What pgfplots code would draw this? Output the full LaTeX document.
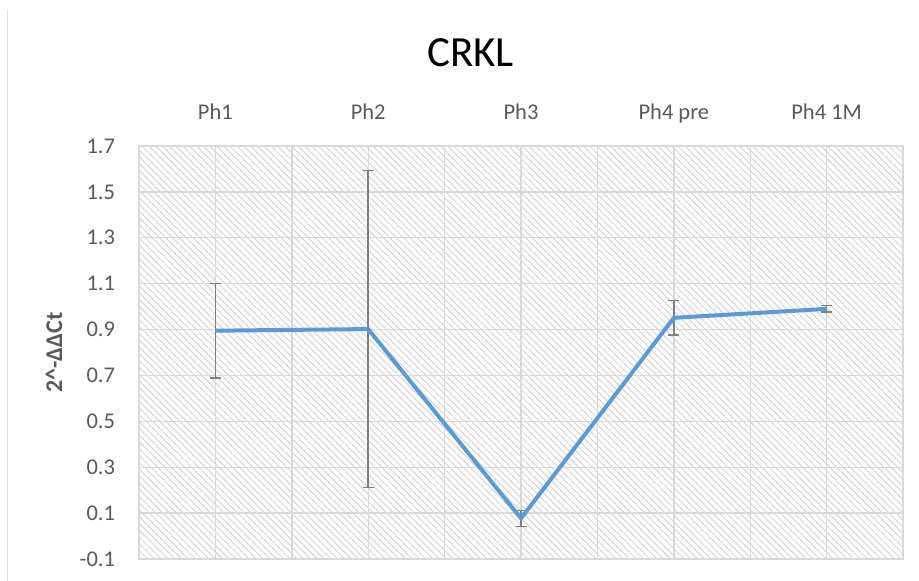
\documentclass[border=0pt]{standalone}
\usepackage{fontspec}
\setmainfont{Carlito}
\usepackage{pgfplots}
\usepackage{pgfplotstable}
\pgfplotsset{compat=1.18}
\usetikzlibrary{patterns.meta}
\definecolor{lineblue}{HTML}{5B9BD5}
\definecolor{ticktxt}{HTML}{595959}
\definecolor{gridc}{HTML}{D9D9D9}
\definecolor{errc}{HTML}{7F7F7F}
\pgfplotstableread{
x y e
1 0.895 0.206
2 0.902 0.691
3 0.077 0.035
4 0.951 0.075
5 0.990 0.014
}\data
\begin{document}
\begin{tikzpicture}
\begin{axis}[
  scale only axis, width=382pt, height=206.5pt,
  xmin=0.5, xmax=5.5, ymin=-0.1, ymax=1.7,
  clip=false,
  xtick={1,2,3,4,5},
  xticklabels={Ph1,Ph2,Ph3,Ph4 pre,Ph4 1M},
  minor xtick={0.5,1.5,2.5,3.5,4.5,5.5},
  ytick={-0.1,0.1,0.3,0.5,0.7,0.9,1.1,1.3,1.5,1.7},
  yticklabels={-0.1,0.1,0.3,0.5,0.7,0.9,1.1,1.3,1.5,1.7},
  xticklabel pos=right,
  major tick length=0pt, minor tick length=0pt,
  xmajorgrids, xminorgrids, ymajorgrids,
  grid style={gridc, line width=0.7pt},
  minor grid style={gridc, line width=0.7pt},
  axis line style={gridc, line width=0.7pt},
  axis background/.style={pattern={Lines[angle=-45, distance=2.4pt, line width=0.5pt]}, pattern color=black!17},
  tick label style={color=ticktxt, font=\fontsize{11.25}{13}\selectfont},
  yticklabel style={anchor=east, inner sep=0pt, xshift=-11.8pt},
  xticklabel style={anchor=base, inner sep=0pt, yshift=13pt},
]
\addplot[draw=none, mark=none, forget plot,
  error bars/.cd, y dir=both, y explicit,
  error bar style={errc, line width=0.8pt},
  error mark options={errc, rotate=90, mark size=2.75pt, line width=0.8pt}]
  table[x=x, y=y, y error=e] {\data};
\addplot[lineblue, line width=2pt, mark=none, line join=round] table[x=x, y=y] {\data};
\node[anchor=base, font=\fontsize{21.5}{24}\selectfont] at (rel axis cs:0.434,1) [yshift=39.5pt] {CRKL};
\end{axis}
\node[rotate=90, font=\bfseries\fontsize{12}{14}\selectfont, color=ticktxt] at ([xshift=-42.5pt]current axis.west) {2\^{}-ΔΔCt};
\draw[black!12, line width=0.5pt] ([xshift=-65.5pt,yshift=68pt]current axis.north west) -- ([xshift=-65.5pt,yshift=-11pt]current axis.south west);
\pgfresetboundingbox
\path[use as bounding box] ([xshift=-69.5pt,yshift=-11pt]current axis.south west) rectangle ([xshift=8pt,yshift=73pt]current axis.north east);
\end{tikzpicture}
\end{document}
